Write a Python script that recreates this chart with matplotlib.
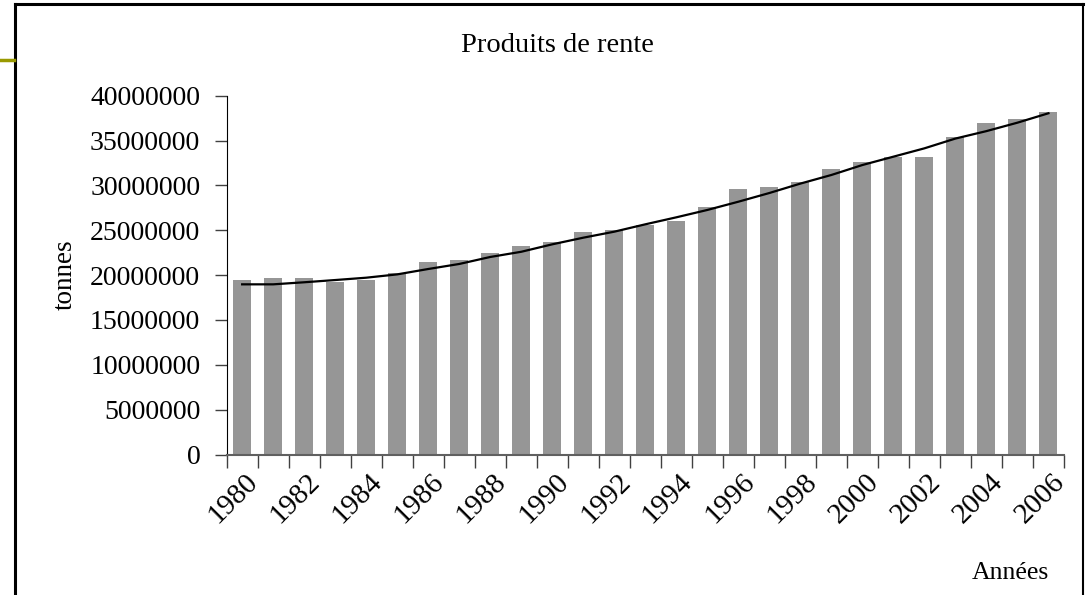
import matplotlib.pyplot as plt
from matplotlib.lines import Line2D
from matplotlib.ticker import FixedLocator
from matplotlib.transforms import ScaledTranslation

plt.rcParams["font.family"] = ["Liberation Serif", "DejaVu Serif"]

years = list(range(1980, 2007))
# production (tonnes)
tonnes = [19.42e6, 19.64e6, 19.64e6, 19.23e6, 19.45e6, 20.2e6, 21.43e6, 21.68e6, 22.48e6,
          23.24e6, 23.73e6, 24.77e6, 25.03e6, 25.59e6, 26.03e6, 27.63e6, 29.57e6, 29.84e6,
          30.38e6, 31.85e6, 32.64e6, 33.17e6, 33.13e6, 35.38e6, 36.92e6, 37.42e6, 38.17e6]
# trend line, read at each year
trend = [18.97e6, 18.97e6, 19.2e6, 19.45e6, 19.71e6, 20.08e6, 20.68e6, 21.24e6, 22.02e6,
         22.6e6, 23.43e6, 24.17e6, 24.84e6, 25.66e6, 26.44e6, 27.26e6, 28.18e6, 29.15e6,
         30.2e6, 31.16e6, 32.27e6, 33.2e6, 34.13e6, 35.22e6, 36.05e6, 36.99e6, 38.04e6]

fig = plt.figure(figsize=(10.86, 5.95), dpi=100)
ax = fig.add_axes([0.2087, 0.2361, 0.7710, 0.6031])

x = list(range(len(years)))
ax.bar(x, tonnes, width=0.58, color="#969696")
ax.plot(x, trend, color="black", linewidth=1.6)

ax.set_xlim(-0.5, len(years) - 0.5)
ax.set_ylim(0, 40000000)
ax.set_yticks(range(0, 40000001, 5000000))
ax.set_yticklabels([str(v) for v in range(0, 40000001, 5000000)], fontsize=20)
ax.tick_params(axis="y", length=9, width=1, pad=10, color="#404040")

ax.xaxis.set_major_locator(FixedLocator(x[::2]))
ax.xaxis.set_minor_locator(FixedLocator([i - 0.5 for i in range(len(years) + 1)]))
ax.set_xticklabels([str(y) for y in years[::2]], fontsize=21, rotation=45,
                   ha="right", va="center", rotation_mode="anchor")
ax.tick_params(axis="x", which="major", length=0, pad=14)
ax.tick_params(axis="x", which="minor", length=9, width=1, color="#404040")
shift = ScaledTranslation(12 / 100, -4 / 100, fig.dpi_scale_trans)
for lbl in ax.get_xticklabels():
    lbl.set_transform(lbl.get_transform() + shift)

for s in ["top", "right"]:
    ax.spines[s].set_visible(False)
ax.spines["left"].set_color("black")
ax.spines["bottom"].set_color("#606060")
ax.spines["bottom"].set_linewidth(1.5)

fig.text(0.513, 0.9227, "Produits de rente", ha="center", va="center", fontsize=20.5)
fig.text(0.06, 1 - 275 / 595, "tonnes", rotation=90, ha="center", va="center", fontsize=19.5)
fig.text(0.93, 1 - 573 / 595, "Années", ha="center", va="center", fontsize=18.5)

# slide frame
fig.add_artist(Line2D([0.0138, 0.0138], [0, 0.9933], transform=fig.transFigure, color="black", lw=2.2))
fig.add_artist(Line2D([0.0138, 0.9972], [0.9933, 0.9933], transform=fig.transFigure, color="black", lw=2.2))
fig.add_artist(Line2D([0.9972, 0.9972], [0, 0.9933], transform=fig.transFigure, color="black", lw=1.5))
fig.add_artist(Line2D([0, 0.0125], [0.899, 0.899], transform=fig.transFigure, color="#999900", lw=2.5))

fig.savefig("out.png", dpi=100)
